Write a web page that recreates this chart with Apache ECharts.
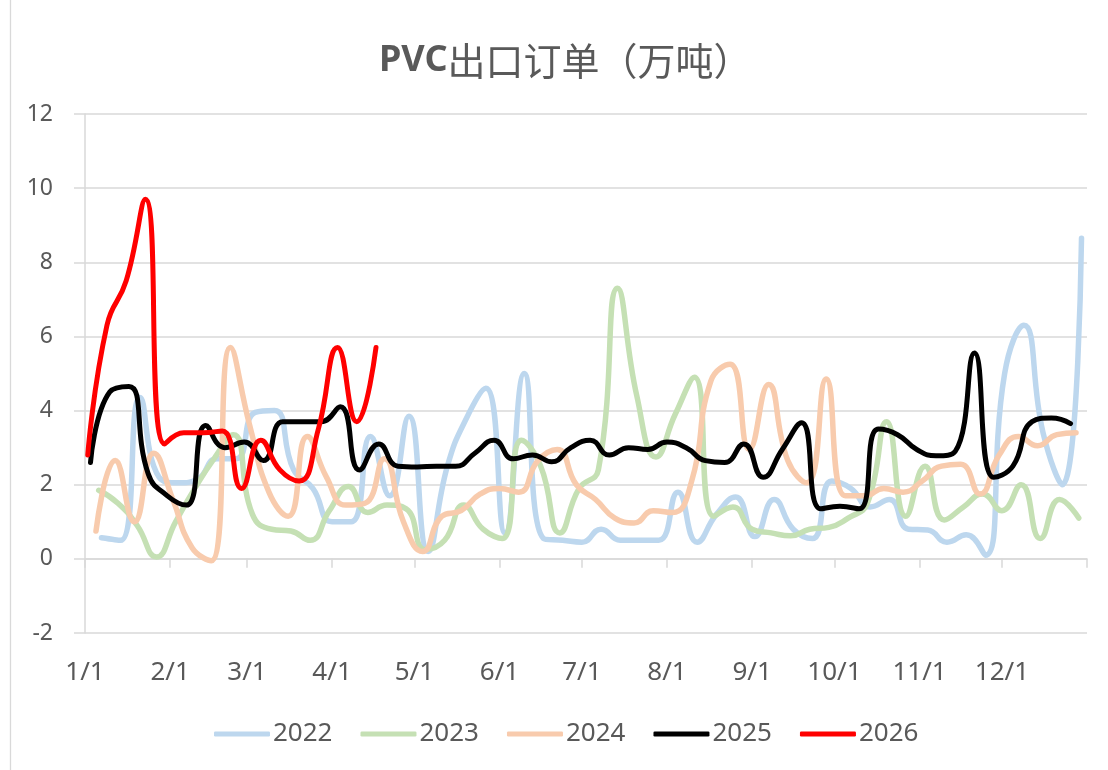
<!DOCTYPE html>
<html>
<head>
<meta charset="utf-8">
<script src="https://cdn.jsdelivr.net/npm/echarts@6/dist/echarts.min.js"></script>
<style>
html,body{margin:0;padding:0;background:#ffffff;}
#c{width:1108px;height:770px;}
</style>
</head>
<body>
<div id="c"></div>
<script>
// ---- data ----
const titleLatin = 'PVC';
const titleCJK = '出口订单（万吨）';
const monthLabels = ['1/1','2/1','3/1','4/1','5/1','6/1','7/1','8/1','9/1','10/1','11/1','12/1'];
const monthStartDays = [0,31,59,90,120,151,181,212,243,273,304,334];
const yearEndDay = 365;
const seriesNames = ['2022','2023','2024','2025','2026'];
// day index (Jan 1 = 0) of the first weekly observation of each year
const firstObsDay = [6, 5, 4, 2, 1];
const weekStep = 7;

const v2022 = [0.57,0.5,4.35,2.2,2.05,2.15,2.7,2.7,3.95,4.0,2.4,1.9,1.0,1.0,3.3,1.7,3.85,0.2,2.5,3.8,4.6,0.7,5.0,0.55,0.5,0.45,0.8,0.5,0.5,0.5,1.8,0.45,1.2,1.67,0.6,1.6,0.8,0.55,2.1,1.9,1.4,1.6,0.8,0.78,0.45,0.65,0.1,5.0,6.3,3.4,2.0,8.65];
const v2023 = [1.85,1.5,0.9,0.05,1.0,1.9,2.7,3.35,1.2,0.8,0.75,0.5,1.3,1.95,1.25,1.45,1.35,0.25,0.5,1.45,0.8,0.55,3.2,2.5,0.7,1.9,2.4,7.3,4.4,2.75,3.9,4.9,1.15,1.4,0.8,0.7,0.62,0.8,0.85,1.1,1.5,3.7,1.15,2.5,1.05,1.4,1.75,1.3,2.0,0.55,1.6,1.1];
const v2024 = [0.75,2.65,1.0,2.85,1.6,0.3,-0.05,5.7,3.6,1.8,1.15,3.3,2.2,1.45,1.5,2.7,1.0,0.2,1.15,1.3,1.75,1.9,1.8,2.65,2.95,2.0,1.6,1.1,0.97,1.3,1.25,2.1,4.8,5.25,2.95,4.7,2.65,2.05,4.85,1.7,1.7,1.9,1.8,2.1,2.5,2.55,1.75,2.8,3.3,3.05,3.35,3.4];
const v2025 = [2.6,4.5,4.65,2.3,1.7,1.45,3.6,3.0,3.15,2.65,3.7,3.7,3.7,4.1,2.4,3.1,2.5,2.48,2.5,2.5,2.85,3.2,2.7,2.8,2.62,3.0,3.2,2.8,3.0,2.95,3.15,3.0,2.65,2.6,3.1,2.2,2.95,3.67,1.35,1.42,1.35,3.5,3.35,2.95,2.78,2.9,5.55,2.2,2.5,3.7,3.8,3.65];
const v2026 = [2.8,6.3,7.5,9.7,3.1,3.4,3.4,3.45,1.9,3.2,2.4,2.1,3.5,5.7,3.7,5.7];

const yMin = -2, yMax = 12, yStep = 2;

// ---- styles ----
const seriesColors = ['#BDD7EE','#C5E0B4','#F8CBAD','#000000','#FF0000'];
const textColor = '#595959';
const gridColor = '#d9d9d9';
const allValues = [v2022, v2023, v2024, v2025, v2026];

function toPoints(vals, start) {
  return vals.map((v, i) => [start + i * weekStep, v]);
}
function monthLabel(v) {
  const idx = monthStartDays.indexOf(v);
  return idx >= 0 ? monthLabels[idx] : '';
}

const chart = echarts.init(document.getElementById('c'), null, {renderer: 'canvas'});
const option = {
  animation: false,
  backgroundColor: '#ffffff',
  title: {
    text: '{b|' + titleLatin + '}{n|' + titleCJK + '}',
    left: 374,
    top: 37,
    textStyle: {
      rich: {
        b: {fontSize: 36, fontWeight: 'bold', color: textColor, fontFamily: '"Noto Sans", sans-serif'},
        n: {fontSize: 38, fontWeight: 'normal', color: textColor, fontFamily: '"Noto Sans CJK SC", sans-serif'}
      }
    }
  },
  legend: {
    data: seriesNames,
    left: 209,
    top: 716,
    icon: 'roundRect',
    itemWidth: 56,
    itemHeight: 5,
    itemGap: 28,
    textStyle: {fontSize: 26, color: textColor, fontFamily: '"Noto Sans", sans-serif', padding: [0, 0, 0, -2]}
  },
  graphic: [{
    type: 'line', shape: {x1: 10.5, y1: 0, x2: 10.5, y2: 770},
    style: {stroke: gridColor, lineWidth: 1.3}, silent: true
  }],
  grid: {left: 85, right: 21, top: 114, bottom: 137, containLabel: false},
  xAxis: [{
    type: 'value', min: 0, max: yearEndDay, position: 'bottom',
    axisLine: {show: true, onZero: true, lineStyle: {color: gridColor, width: 1.5}},
    axisTick: {show: true, customValues: monthStartDays.concat([yearEndDay]), length: 9, lineStyle: {color: gridColor, width: 1.5}},
    axisLabel: {show: false},
    splitLine: {show: false}
  }, {
    type: 'value', min: 0, max: yearEndDay, position: 'bottom',
    axisLine: {show: false, onZero: false},
    axisTick: {show: false},
    axisLabel: {show: true, customValues: monthStartDays, formatter: monthLabel, margin: 27, fontSize: 26, color: textColor, fontFamily: '"Noto Sans", sans-serif'},
    splitLine: {show: false}
  }],
  yAxis: {
    type: 'value', min: yMin, max: yMax, interval: yStep,
    axisLine: {show: true, lineStyle: {color: gridColor, width: 1.5}},
    axisTick: {show: true, length: 11, lineStyle: {color: gridColor, width: 1.5}},
    axisLabel: {margin: 32, fontSize: 23, color: textColor, fontFamily: '"Noto Sans", sans-serif'},
    splitLine: {show: true, lineStyle: {color: gridColor, width: 1.5}}
  },
  series: seriesNames.map((name, i) => ({
    name: name,
    type: 'line',
    xAxisIndex: 0,
    data: toPoints(allValues[i], firstObsDay[i]),
    smooth: 0.5,
    symbol: 'none',
    showSymbol: false,
    color: seriesColors[i],
    lineStyle: {color: seriesColors[i], width: i >= 3 ? 5 : 5.5, cap: 'round', join: 'round'},
    z: 2 + i
  }))
};
chart.setOption(option);
</script>
</body>
</html>
